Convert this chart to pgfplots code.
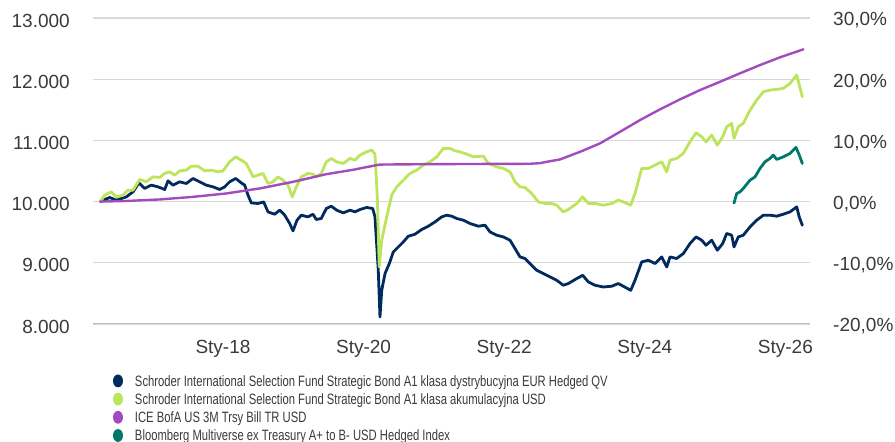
\documentclass[border=0pt]{standalone}
\usepackage{fontspec}
\setmainfont{Liberation Sans}
\newfontfamily\legendfont[FakeStretch=0.75]{Liberation Sans}
\usepackage{pgfplots}
\pgfplotsset{compat=1.18}
\definecolor{cnavy}{HTML}{002B5C}
\definecolor{cgreen}{HTML}{BDE55C}
\definecolor{cpurple}{HTML}{A24BBF}
\definecolor{cteal}{HTML}{00786A}
\definecolor{cgrid}{HTML}{D9D9D9}
\definecolor{cbase}{HTML}{BFBFBF}
\definecolor{ctext}{HTML}{3A3A3A}
\begin{document}
\begin{tikzpicture}[x=1pt,y=1pt]
\path[use as bounding box] (0,0) rectangle (895,442);
\begin{axis}[
  at={(93pt,118pt)}, anchor=south west,
  scale only axis, width=717pt, height=306pt,
  xmin=2016.151, xmax=2026.350, ymin=8000, ymax=13000,
  scaled y ticks=false, scaled x ticks=false,
  axis line style={draw=none}, tick style={draw=none}, major tick length=0pt,
  ytick={8000,9000,10000,11000,12000,13000},
  yticklabels={8.000,9.000,10.000,11.000,12.000,13.000},
  xtick={2018,2020,2022,2024,2026},
  xticklabels={Sty-18,Sty-20,Sty-22,Sty-24,Sty-26},
  ymajorgrids, major grid style={cgrid, line width=1.2pt},
  yticklabel style={font=\fontsize{19}{19}\selectfont, text=ctext, anchor=east, inner sep=0pt, xshift=-23pt, yshift=-2.5pt},
  xticklabel style={font=\fontsize{19}{19}\selectfont, text=ctext, anchor=north, inner sep=0pt, yshift=-16.5pt},
  legend style={at={(0,0)}, anchor=north west, xshift=20pt, yshift=-50.5pt,
    draw=none, fill=none, inner sep=0pt, outer sep=0pt, row sep=2.4pt, column sep=12pt,
    font=\legendfont\fontsize{15}{15}\selectfont, text=ctext,
    nodes={inner sep=0pt, text height=11pt, text depth=4pt}},
  legend cell align=left,
  legend image code/.code={\fill[#1, draw=none] (5pt,1.9pt) ellipse [x radius=5pt, y radius=6.4pt];},
  every axis plot/.append style={line join=round, line cap=round},
]
\addplot[color=cnavy, line width=2.8pt] coordinates {
(2016.255,10000) (2016.388,10067) (2016.482,10023) (2016.625,10077) (2016.720,10159) (2016.805,10306) (2016.886,10215) (2016.980,10269) (2017.075,10241) (2017.171,10198) (2017.218,10339) (2017.289,10269) (2017.384,10323) (2017.478,10296) (2017.573,10378) (2017.669,10323) (2017.763,10269) (2017.858,10241) (2017.953,10198) (2018.024,10241) (2018.095,10323) (2018.181,10378) (2018.260,10306) (2018.309,10269) (2018.356,10105) (2018.403,9979) (2018.498,9969) (2018.579,9995) (2018.640,9832) (2018.735,9794) (2018.807,9860) (2018.878,9778) (2018.949,9642) (2018.996,9521) (2019.053,9696) (2019.114,9778) (2019.209,9750) (2019.280,9794) (2019.327,9708) (2019.398,9724) (2019.470,9887) (2019.541,9925) (2019.617,9860) (2019.711,9816) (2019.807,9860) (2019.878,9832) (2019.949,9871) (2020.044,9904) (2020.130,9887) (2020.162,9750) (2020.209,8878) (2020.233,8115) (2020.258,8551) (2020.305,8824) (2020.366,8988) (2020.423,9178) (2020.494,9259) (2020.565,9341) (2020.636,9434) (2020.731,9467) (2020.827,9544) (2020.920,9598) (2021.016,9668) (2021.111,9750) (2021.182,9778) (2021.253,9762) (2021.324,9724) (2021.418,9696) (2021.514,9642) (2021.632,9598) (2021.727,9614) (2021.798,9505) (2021.893,9451) (2021.987,9423) (2022.083,9369) (2022.154,9233) (2022.225,9096) (2022.296,9070) (2022.367,8988) (2022.462,8878) (2022.556,8824) (2022.652,8769) (2022.747,8715) (2022.841,8633) (2022.912,8661) (2023.031,8742) (2023.117,8796) (2023.197,8687) (2023.292,8633) (2023.410,8605) (2023.529,8617) (2023.623,8661) (2023.694,8617) (2023.800,8551) (2023.861,8715) (2023.956,9014) (2024.050,9042) (2024.145,8988) (2024.241,9096) (2024.312,8932) (2024.359,9096) (2024.454,9070) (2024.548,9151) (2024.643,9315) (2024.729,9423) (2024.810,9369) (2024.871,9287) (2024.952,9369) (2025.032,9205) (2025.108,9315) (2025.165,9479) (2025.236,9451) (2025.269,9259) (2025.330,9423) (2025.401,9451) (2025.497,9587) (2025.592,9696) (2025.686,9778) (2025.781,9778) (2025.877,9762) (2025.970,9794) (2026.066,9832) (2026.161,9914) (2026.198,9744) (2026.241,9614)
};
\addlegendentry{Schroder International Selection Fund Strategic Bond A1 klasa dystrybucyjna EUR Hedged QV}
\addplot[color=cgreen, line width=2.8pt] coordinates {
(2016.255,10000) (2016.317,10105) (2016.411,10159) (2016.482,10077) (2016.578,10105) (2016.649,10187) (2016.720,10187) (2016.815,10362) (2016.909,10323) (2017.004,10404) (2017.100,10395) (2017.171,10460) (2017.242,10486) (2017.313,10432) (2017.384,10502) (2017.478,10514) (2017.549,10579) (2017.644,10579) (2017.740,10502) (2017.834,10514) (2017.929,10486) (2018.000,10502) (2018.095,10650) (2018.181,10731) (2018.260,10677) (2018.331,10623) (2018.380,10514) (2018.427,10404) (2018.498,10432) (2018.569,10460) (2018.640,10296) (2018.711,10323) (2018.782,10404) (2018.853,10350) (2018.925,10269) (2018.986,10077) (2019.043,10241) (2019.114,10404) (2019.209,10460) (2019.280,10448) (2019.327,10404) (2019.398,10460) (2019.470,10650) (2019.541,10705) (2019.617,10650) (2019.711,10623) (2019.807,10705) (2019.878,10677) (2019.949,10759) (2020.044,10813) (2020.115,10841) (2020.162,10776) (2020.195,10077) (2020.223,8932) (2020.258,9369) (2020.329,9750) (2020.400,10105) (2020.471,10241) (2020.565,10350) (2020.660,10460) (2020.756,10514) (2020.850,10596) (2020.945,10650) (2021.040,10731) (2021.134,10869) (2021.229,10869) (2021.300,10830) (2021.371,10813) (2021.467,10776) (2021.561,10731) (2021.703,10743) (2021.774,10623) (2021.893,10568) (2021.987,10542) (2022.083,10486) (2022.154,10323) (2022.225,10241) (2022.296,10231) (2022.391,10133) (2022.485,9995) (2022.580,9969) (2022.675,9969) (2022.747,9941) (2022.841,9832) (2022.912,9871) (2023.031,9969) (2023.117,10077) (2023.197,9969) (2023.292,9969) (2023.410,9941) (2023.529,9969) (2023.623,10023) (2023.694,9995) (2023.800,9941) (2023.861,10133) (2023.956,10542) (2024.050,10542) (2024.145,10596) (2024.241,10650) (2024.312,10486) (2024.359,10677) (2024.454,10705) (2024.548,10787) (2024.643,10977) (2024.729,11124) (2024.810,11059) (2024.871,10977) (2024.952,11086) (2025.032,10923) (2025.108,11059) (2025.165,11222) (2025.236,11278) (2025.269,11032) (2025.330,11222) (2025.401,11278) (2025.497,11495) (2025.592,11659) (2025.686,11795) (2025.781,11822) (2025.877,11834) (2025.970,11850) (2026.066,11932) (2026.161,12068) (2026.198,11904) (2026.241,11713)
};
\addlegendentry{Schroder International Selection Fund Strategic Bond A1 klasa akumulacyjna USD}
\addplot[color=cpurple, line width=2.4pt] coordinates {
(2016.255,10000) (2016.620,10010) (2017.100,10035) (2017.573,10077) (2018.047,10133) (2018.522,10215) (2018.996,10323) (2019.470,10448) (2019.850,10520) (2020.186,10596) (2020.233,10605) (2020.945,10612) (2021.656,10615) (2022.367,10618) (2022.509,10628) (2022.605,10650) (2022.794,10689) (2023.078,10813) (2023.363,10951) (2023.647,11140) (2023.932,11332) (2024.216,11507) (2024.501,11670) (2024.785,11822) (2025.070,11958) (2025.354,12096) (2025.639,12231) (2025.923,12357) (2026.255,12488)
};
\addlegendentry{ICE BofA US 3M Trsy Bill TR USD}
\addplot[color=cteal, line width=2.8pt] coordinates {
(2025.269,9975) (2025.308,10133) (2025.355,10159) (2025.401,10215) (2025.497,10350) (2025.568,10404) (2025.639,10542) (2025.710,10650) (2025.781,10705) (2025.828,10759) (2025.877,10689) (2025.970,10731) (2026.066,10787) (2026.151,10885) (2026.198,10759) (2026.241,10623)
};
\addlegendentry{Bloomberg Multiverse ex Treasury A+ to B- USD Hedged Index}
\draw[color=cbase, line width=1.2pt] (rel axis cs:0,0) -- (rel axis cs:1,0);
\end{axis}
\begin{axis}[
  at={(93pt,118pt)}, anchor=south west,
  scale only axis, width=717pt, height=306pt,
  xmin=2016.151, xmax=2026.350, ymin=-20, ymax=30,
  axis line style={draw=none}, tick style={draw=none}, major tick length=0pt,
  xtick=\empty,
  ytick={-20,-10,0,10,20,30},
  yticklabels={{-20,0\%},{-10,0\%},{0,0\%},{10,0\%},{20,0\%},{30,0\%}},
  yticklabel pos=right,
  yticklabel style={font=\fontsize{19}{19}\selectfont, text=ctext, anchor=west, inner sep=0pt, xshift=23pt, yshift=-2.5pt},
]
\end{axis}
\end{tikzpicture}
\end{document}
